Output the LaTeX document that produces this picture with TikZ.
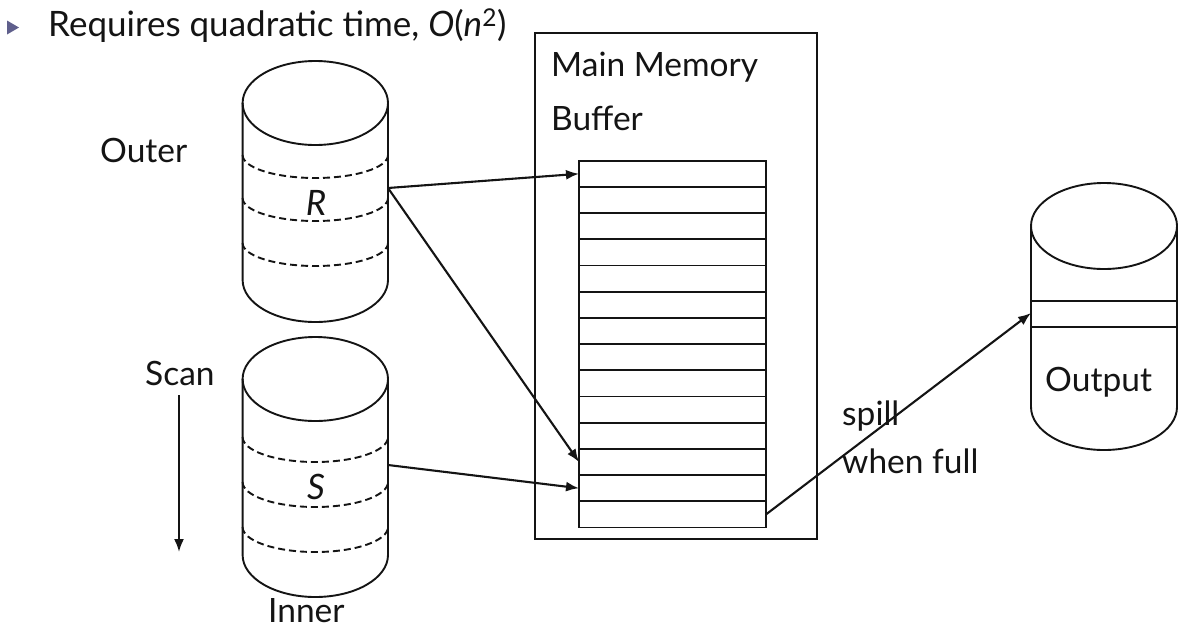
\documentclass[tikz,border=0pt]{standalone}
\usepackage{fontspec}
\setmainfont{Lato}
\usetikzlibrary{arrows.meta}
\definecolor{bulletc}{RGB}{95,95,140}
\definecolor{ink}{RGB}{20,20,20}
\newcommand{\drawcyl}[5]{% cx, rx, ytopcenter, ybottom, ry
  \draw[cylline] (#1,#3) ellipse[x radius=#2pt, y radius=#5pt];
  \draw[cylline] (#1-#2,#3) -- (#1-#2,#4) arc[start angle=180,end angle=360,x radius=#2pt,y radius=#5pt] -- (#1+#2,#3);
}
\begin{document}
\begin{tikzpicture}[x=1pt,y=-1pt,
  cylline/.style={line width=1.9pt,draw=ink},
  dashline/.style={line width=1.9pt,draw=ink,dash pattern=on 7pt off 4pt},
  rowbox/.style={draw=ink,line width=1.9pt,minimum width=187pt,minimum height=26.2pt,inner sep=0pt,outer sep=0pt},
  conn/.style={line width=2.1pt,draw=ink,-{Latex[length=13pt,width=10pt]}},
  lbl/.style={font=\fontsize{33.5}{38}\selectfont,text=ink,inner sep=0pt,anchor=base west},
  hdr/.style={font=\fontsize{35}{40}\selectfont,text=ink,inner sep=0pt,anchor=base west}]
\useasboundingbox[fill=white] (0,0) rectangle (1190,632);

% header
\fill[bulletc] (7,20.5) -- (19,27.5) -- (7,34.5) -- cycle;
\node[hdr] (title) at (48,36) {Requires quadratic time, {\itshape O}({\itshape n}\textsuperscript{2})};

% cylinder R
\drawcyl{315.3}{72.7}{103}{280}{42}
\foreach \yy in {155,198,243}
  \draw[dashline] (242.6,\yy) arc[start angle=180,end angle=360,x radius=72.7pt,y radius=23pt];
\node[lbl,anchor=center,font=\fontsize{35}{40}\selectfont\itshape] (Rl) at (316,203) {R};
\coordinate (Rout) at (388,188);
\node[lbl] (outer) at (100,162) {Outer};

% cylinder S
\drawcyl{315.3}{72.7}{379}{555}{42}
\foreach \yy in {437,482,527}
  \draw[dashline] (242.6,\yy) arc[start angle=180,end angle=360,x radius=72.7pt,y radius=25pt];
\node[lbl,anchor=center,font=\fontsize{35}{40}\selectfont\itshape] (Sl) at (316,487) {S};
\coordinate (Sout) at (388,465);
\node[lbl] (inner) at (268,622) {Inner};

% scan
\node[lbl] (scan) at (145,385) {Scan};
\coordinate (scanA) at (179,395);
\coordinate (scanB) at (179,552);
\draw[conn] (scanA) -- (scanB);

% buffer
\draw[line width=1.9pt,draw=ink] (535,33) rectangle (817,539);
\node[lbl] (mm) at (551,76) {Main Memory};
\node[lbl] (buf) at (551,130) {Buffer};
\foreach \i in {1,...,14}
  \node[rowbox] (row\i) at (672.5,{160.7+(\i-0.5)*26.2}) {};

% output cylinder
\drawcyl{1104}{73}{226}{407}{43}
\draw[cylline] (1031,301) -- (1177,301);
\draw[cylline] (1031,327) -- (1177,327);
\coordinate (outband) at (1031,313);
\node[lbl] (outl) at (1045,391) {Output};

% connectors
\draw[conn] (Rout) -- (row1.west);
\draw[conn] (Rout) -- (row12.west);
\draw[conn] (Sout) -- (row13.west);
\draw[conn] (row14.east) -- (outband);
\node[lbl] (spill) at (842,425) {spill};
\node[lbl] (wf) at (842,473) {when full};
\end{tikzpicture}
\end{document}
